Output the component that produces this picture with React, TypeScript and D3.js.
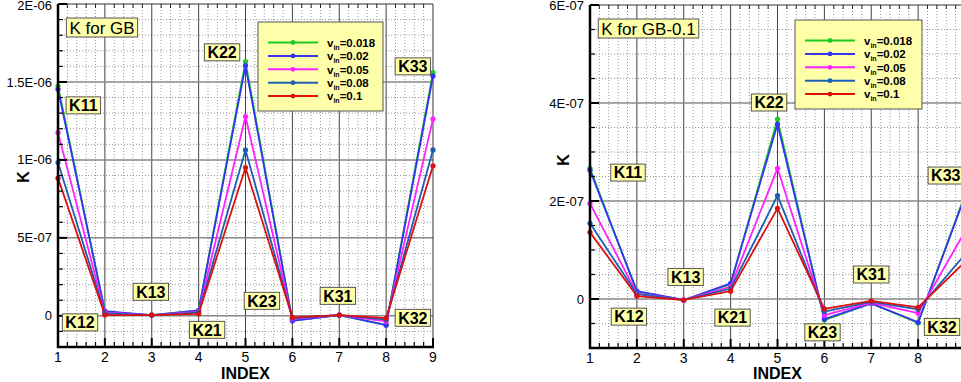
import React, { useEffect, useRef } from "react";
import * as d3 from "d3";

const indices = [1, 2, 3, 4, 5, 6, 7, 8, 9];
const seriesNames = ["0.018", "0.02", "0.05", "0.08", "0.1"];
const seriesColors = ["#1ccc1c", "#3434f4", "#ff22ff", "#1c5eb4", "#dc1010"];

// K for GB, one row per v_in
const gbValues = [
  [1.474e-6, 2.5e-8, 0.5e-8, 3.5e-8, 1.63e-6, -3.0e-8, 0.5e-8, -5.8e-8, 1.56e-6],
  [1.453e-6, 3.0e-8, 0.5e-8, 3.4e-8, 1.605e-6, -3.2e-8, 0.5e-8, -6.0e-8, 1.538e-6],
  [1.175e-6, 2.0e-8, 0.5e-8, 2.5e-8, 1.278e-6, -2.0e-8, 0.5e-8, -3.6e-8, 1.263e-6],
  [0.983e-6, 1.5e-8, 0.5e-8, 2.0e-8, 1.064e-6, -1.5e-8, 0.5e-8, -2.5e-8, 1.064e-6],
  [0.883e-6, 0.5e-8, 0.5e-8, 1.3e-8, 0.951e-6, -1.0e-8, 0.5e-8, -1.5e-8, 0.962e-6],
];

// K for GB-0.1
const gb01Values = [
  [2.667e-7, 1.5e-8, -0.2e-8, 3.0e-8, 3.67e-7, -4.3e-8, -0.9e-8, -4.9e-8, 2.13e-7],
  [2.63e-7, 1.6e-8, -0.2e-8, 3.2e-8, 3.57e-7, -4.1e-8, -0.9e-8, -4.75e-8, 2.1e-7],
  [1.95e-7, 1.1e-8, -0.2e-8, 2.5e-8, 2.667e-7, -3.3e-8, -0.8e-8, -2.9e-8, 1.38e-7],
  [1.545e-7, 1.0e-8, -0.2e-8, 2.1e-8, 2.11e-7, -2.6e-8, -0.6e-8, -2.1e-8, 0.91e-7],
  [1.36e-7, 0.6e-8, -0.2e-8, 1.6e-8, 1.85e-7, -2.0e-8, -0.4e-8, -1.7e-8, 0.76e-7],
];

const gbTicks = [0, 5e-7, 1e-6, 1.5e-6, 2e-6];
const gbTickLabels = ["0", "5E-07", "1E-06", "1.5E-06", "2E-06"];
const gb01Ticks = [0, 2e-7, 4e-7, 6e-7];
const gb01TickLabels = ["0", "2E-07", "4E-07", "6E-07"];

// component labels, placed in data coordinates (index, K)
const gbLabels: [string, number, number][] = [
  ["K11", 1.54, 1.35e-6],
  ["K22", 4.5, 1.69e-6],
  ["K33", 8.57, 1.6e-6],
  ["K12", 1.47, -0.42e-7],
  ["K13", 2.98, 1.54e-7],
  ["K21", 4.18, -0.9e-7],
  ["K23", 5.35, 0.96e-7],
  ["K31", 6.97, 1.28e-7],
  ["K32", 8.57, -0.13e-7],
];
const gb01Labels: [string, number, number][] = [
  ["K11", 1.81, 2.58e-7],
  ["K22", 4.82, 4.01e-7],
  ["K33", 8.59, 2.52e-7],
  ["K12", 1.83, -0.36e-7],
  ["K13", 3.04, 0.45e-7],
  ["K21", 4.04, -0.38e-7],
  ["K23", 5.96, -0.68e-7],
  ["K31", 7.0, 0.5e-7],
  ["K32", 8.51, -0.57e-7],
];

const FONT = "'Liberation Sans', Arial, Helvetica, sans-serif";
const BOX_FILL = "#ffffaa";
const W = 961;
const H = 382;

interface ChartConfig {
  x0: number;
  x1: number;
  y0: number;
  y1: number;
  yDomain: [number, number];
  yTicks: number[];
  yTickLabels: string[];
  yMinorStep: number;
  values: number[][];
  labels: [string, number, number][];
  title: string;
  titleX: number;
  titleY: number;
  legendX: number;
  legendY: number;
  legendW: number;
  legendH: number;
  yLabelX: number;
  yLabelY: number;
}

function drawChart(root: d3.Selection<SVGSVGElement, unknown, null, undefined>, c: ChartConfig) {
  const g = root.append("g");
  const xScale = d3.scaleLinear().domain([1, 9]).range([c.x0, c.x1]);
  const yScale = d3.scaleLinear().domain(c.yDomain).range([c.y1, c.y0]);

  const xMinor = d3.range(1, 9.001, 0.2).filter((v) => Math.abs(v - Math.round(v)) > 1e-6);
  const yMinor = d3
    .range(c.yDomain[0], c.yDomain[1] + c.yMinorStep / 2, c.yMinorStep)
    .filter((v) => !c.yTicks.some((t) => Math.abs(t - v) < c.yMinorStep / 10));

  // minor dotted grid
  g.selectAll(".xminor")
    .data(xMinor)
    .enter()
    .append("line")
    .attr("x1", (d) => xScale(d))
    .attr("x2", (d) => xScale(d))
    .attr("y1", c.y0)
    .attr("y2", c.y1)
    .attr("stroke", "#999")
    .attr("stroke-width", 1)
    .attr("stroke-dasharray", "1,2");
  g.selectAll(".yminor")
    .data(yMinor)
    .enter()
    .append("line")
    .attr("x1", c.x0)
    .attr("x2", c.x1)
    .attr("y1", (d) => yScale(d))
    .attr("y2", (d) => yScale(d))
    .attr("stroke", "#999")
    .attr("stroke-width", 1)
    .attr("stroke-dasharray", "1,2");

  // major grid
  g.selectAll(".xmajor")
    .data(indices.slice(1, 8))
    .enter()
    .append("line")
    .attr("x1", (d) => xScale(d))
    .attr("x2", (d) => xScale(d))
    .attr("y1", c.y0)
    .attr("y2", c.y1)
    .attr("stroke", "#444")
    .attr("stroke-width", 1);
  g.selectAll(".ymajor")
    .data(c.yTicks.filter((t) => t < c.yDomain[1]))
    .enter()
    .append("line")
    .attr("x1", c.x0)
    .attr("x2", c.x1)
    .attr("y1", (d) => yScale(d))
    .attr("y2", (d) => yScale(d))
    .attr("stroke", "#888")
    .attr("stroke-width", 1.5);

  // frame: top and right thin, left and bottom thick
  g.append("line").attr("x1", c.x0).attr("x2", c.x1).attr("y1", c.y0).attr("y2", c.y0).attr("stroke", "#333");
  g.append("line").attr("x1", c.x1).attr("x2", c.x1).attr("y1", c.y0).attr("y2", c.y1).attr("stroke", "#333");

  // ticks on top edge
  g.selectAll(".ttop")
    .data(xMinor)
    .enter()
    .append("line")
    .attr("x1", (d) => xScale(d))
    .attr("x2", (d) => xScale(d))
    .attr("y1", c.y0)
    .attr("y2", c.y0 + 4)
    .attr("stroke", "#222");

  // series
  const line = d3
    .line<number>()
    .x((_, i) => xScale(indices[i]))
    .y((d) => yScale(d));

  c.values.forEach((vals, si) => {
    g.append("path")
      .attr("d", line(vals) as string)
      .attr("fill", "none")
      .attr("stroke", seriesColors[si])
      .attr("stroke-width", 1.8)
      .attr("stroke-linejoin", "round");
    g.selectAll(".dot" + si)
      .data(vals)
      .enter()
      .append("circle")
      .attr("cx", (_, i) => xScale(indices[i]))
      .attr("cy", (d) => yScale(d))
      .attr("r", 2.6)
      .attr("fill", seriesColors[si]);
  });

  // axes
  g.append("line").attr("x1", c.x0).attr("x2", c.x0).attr("y1", c.y0).attr("y2", c.y1 + 1).attr("stroke", "#000").attr("stroke-width", 2.5);
  g.append("line").attr("x1", c.x0 - 1).attr("x2", c.x1 + 1).attr("y1", c.y1).attr("y2", c.y1).attr("stroke", "#000").attr("stroke-width", 2.5);

  g.selectAll(".xtick")
    .data(indices)
    .enter()
    .append("line")
    .attr("x1", (d) => xScale(d))
    .attr("x2", (d) => xScale(d))
    .attr("y1", c.y1)
    .attr("y2", c.y1 - 9)
    .attr("stroke", "#000")
    .attr("stroke-width", 2);
  g.selectAll(".xmtick")
    .data(xMinor)
    .enter()
    .append("line")
    .attr("x1", (d) => xScale(d))
    .attr("x2", (d) => xScale(d))
    .attr("y1", c.y1)
    .attr("y2", c.y1 - 5)
    .attr("stroke", "#000")
    .attr("stroke-width", 1.2);
  g.selectAll(".ytick")
    .data(c.yTicks)
    .enter()
    .append("line")
    .attr("x1", c.x0)
    .attr("x2", c.x0 + 9)
    .attr("y1", (d) => yScale(d))
    .attr("y2", (d) => yScale(d))
    .attr("stroke", "#000")
    .attr("stroke-width", 2);
  g.selectAll(".ymtick")
    .data(yMinor)
    .enter()
    .append("line")
    .attr("x1", c.x0)
    .attr("x2", c.x0 + 5)
    .attr("y1", (d) => yScale(d))
    .attr("y2", (d) => yScale(d))
    .attr("stroke", "#000")
    .attr("stroke-width", 1.2);

  // tick labels (skip any that fall off the page)
  g.selectAll(".xlab")
    .data(indices.filter((d) => xScale(d) + 4 < W))
    .enter()
    .append("text")
    .attr("x", (d) => xScale(d))
    .attr("y", c.y1 + 15)
    .attr("text-anchor", "middle")
    .attr("font-size", 14)
    .attr("font-family", FONT)
    .text((d) => String(d));
  g.selectAll(".ylab")
    .data(c.yTicks)
    .enter()
    .append("text")
    .attr("x", c.x0 - 6)
    .attr("y", (d) => Math.max(yScale(d), 5.5))
    .attr("dy", "0.35em")
    .attr("text-anchor", "end")
    .attr("font-size", 13)
    .attr("font-family", FONT)
    .text((_, i) => c.yTickLabels[i]);

  g.append("text")
    .attr("x", (c.x0 + c.x1) / 2)
    .attr("y", 379)
    .attr("text-anchor", "middle")
    .attr("font-size", 16)
    .attr("font-weight", "bold")
    .attr("font-family", FONT)
    .text("INDEX");
  g.append("text")
    .attr("transform", `translate(${c.yLabelX},${c.yLabelY}) rotate(-90)`)
    .attr("text-anchor", "middle")
    .attr("dy", "0.35em")
    .attr("font-size", 16)
    .attr("font-weight", "bold")
    .attr("font-family", FONT)
    .text("K");

  // boxed text helper
  const boxed = (txt: string, cx: number, cy: number, size: number, bold: boolean, h: number) => {
    const bg = g.append("g");
    const rect = bg.append("rect");
    const t = bg
      .append("text")
      .attr("x", cx)
      .attr("y", cy)
      .attr("dy", "0.36em")
      .attr("text-anchor", "middle")
      .attr("font-size", size)
      .attr("font-weight", bold ? "bold" : "normal")
      .attr("font-family", FONT)
      .text(txt);
    const w = (t.node() as SVGTextElement).getComputedTextLength() + 6;
    rect
      .attr("x", cx - w / 2)
      .attr("y", cy - h / 2)
      .attr("width", w)
      .attr("height", h)
      .attr("fill", BOX_FILL)
      .attr("stroke", "#555")
      .attr("stroke-width", 1);
  };

  c.labels.forEach(([txt, lx, ly]) => boxed(txt, xScale(lx), yScale(ly), 16, true, 17));
  boxed(c.title, c.titleX, c.titleY, 17, false, 19);

  // legend
  const lg = g.append("g").attr("transform", `translate(${c.legendX},${c.legendY})`);
  lg.append("rect")
    .attr("width", c.legendW)
    .attr("height", c.legendH)
    .attr("fill", BOX_FILL)
    .attr("stroke", "#555");
  seriesNames.forEach((name, i) => {
    const y = 20.5 + i * 13.4;
    lg.append("line")
      .attr("x1", 10)
      .attr("x2", 60)
      .attr("y1", y)
      .attr("y2", y)
      .attr("stroke", seriesColors[i])
      .attr("stroke-width", 2);
    lg.append("circle").attr("cx", 35).attr("cy", y).attr("r", 2.4).attr("fill", seriesColors[i]);
    const t = lg
      .append("text")
      .attr("x", 69)
      .attr("y", y + 4.2)
      .attr("font-size", 11.5)
      .attr("font-weight", "bold")
      .attr("font-family", FONT);
    t.append("tspan").text("v");
    t.append("tspan").attr("font-size", 7).attr("dy", 3).text("in");
    t.append("tspan").attr("dy", -3).text("=" + name);
  });
}

const App: React.FC = () => {
  const svgRef = useRef<SVGSVGElement | null>(null);

  useEffect(() => {
    const svg = d3.select(svgRef.current as SVGSVGElement);
    svg.selectAll("*").remove();
    svg.append("rect").attr("width", W).attr("height", H).attr("fill", "#fff");

    drawChart(svg, {
      x0: 58,
      x1: 433,
      y0: 4,
      y1: 347,
      yDomain: [-2e-7, 2e-6],
      yTicks: gbTicks,
      yTickLabels: gbTickLabels,
      yMinorStep: 1e-7,
      values: gbValues,
      labels: gbLabels,
      title: "K for GB",
      titleX: 102,
      titleY: 27.5,
      legendX: 258,
      legendY: 22,
      legendW: 125,
      legendH: 89,
      yLabelX: 23,
      yLabelY: 177,
    });

    drawChart(svg, {
      x0: 590,
      x1: 965,
      y0: 5,
      y1: 348,
      yDomain: [-1e-7, 6e-7],
      yTicks: gb01Ticks,
      yTickLabels: gb01TickLabels,
      yMinorStep: 5e-8,
      values: gb01Values,
      labels: gb01Labels,
      title: "K for GB-0.1",
      titleX: 648.5,
      titleY: 28.5,
      legendX: 795,
      legendY: 20,
      legendW: 127,
      legendH: 89,
      yLabelX: 563,
      yLabelY: 160,
    });
  }, []);

  return (
    <svg
      ref={svgRef}
      width={W}
      height={H}
      style={{ position: "absolute", left: 0, top: 0 }}
    ></svg>
  );
};

export default App;
